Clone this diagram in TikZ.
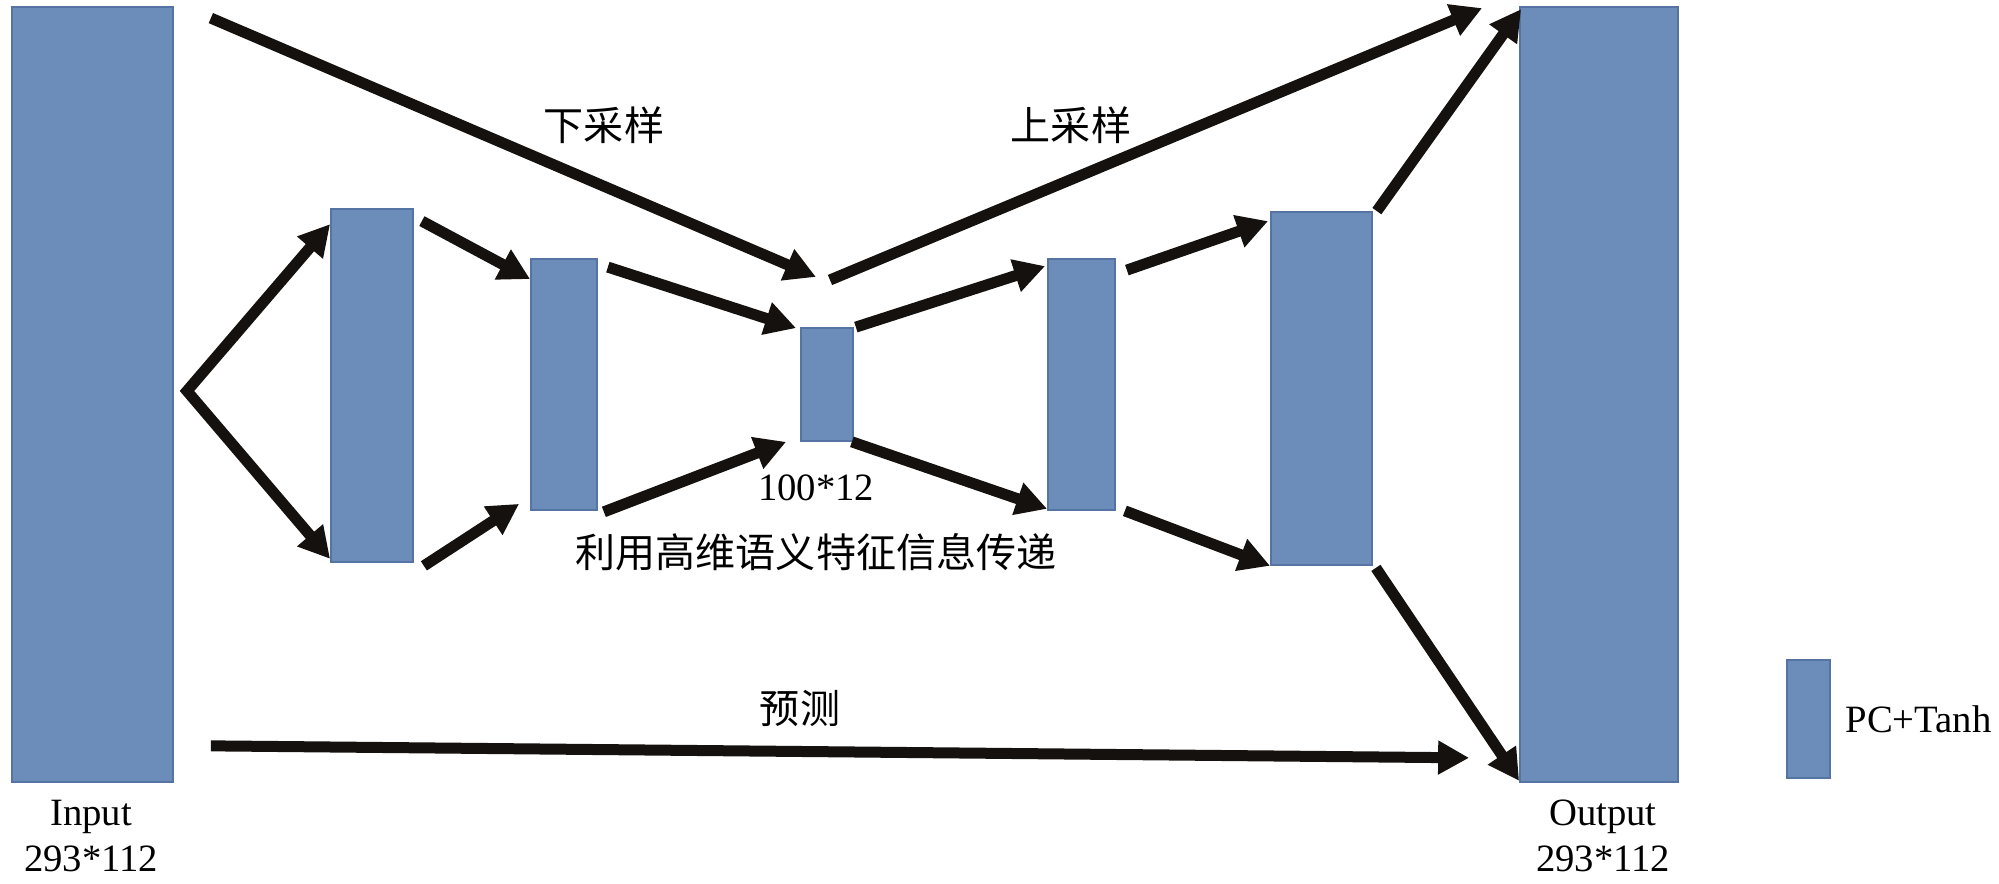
\documentclass[tikz,border=0pt]{standalone}
\usepackage{fontspec}
\setmainfont{Liberation Serif}
\newfontfamily\cjk{Noto Sans CJK SC}
\usepackage{xcolor}
\usepackage{tikz}
\usetikzlibrary{arrows.meta,positioning}

\definecolor{boxblue}{HTML}{6C8CBA}
\definecolor{boxedge}{HTML}{5573A3}
\definecolor{arrowink}{HTML}{15110E}

\tikzset{
    layer/.style={draw=boxedge, fill=boxblue, line width=0.5pt, inner sep=0pt},
    fat/.style={draw=arrowink, line width=0.11cm, >={Triangle[length=0.31cm,width=0.32cm]}},
    zh/.style={font=\cjk\fontsize{11.4}{13}\selectfont, inner sep=0pt},
    en/.style={font=\fontsize{11}{13}\selectfont, inner sep=0pt, align=center}
}

\begin{document}
\begin{tikzpicture}
    \useasboundingbox (0,0) rectangle (19.99,8.84);

    % feature maps: name / centre x / centre y / width / height
    \foreach \nm/\x/\y/\w/\h in {in/0.925/4.895/1.61/7.75, a/3.72/4.985/0.82/3.53,
        b/5.64/4.995/0.66/2.51, c/8.27/4.995/0.52/1.13, d/10.815/4.995/0.67/2.51,
        e/13.215/4.955/1.01/3.53, out/15.99/4.895/1.58/7.75, key/18.085/1.65/0.43/1.18} {
        \node[layer, minimum width=\w cm, minimum height=\h cm] (\nm) at (\x,\y) {};
    }

    % input splits into two branches
    \coordinate (fork) at (1.87,4.93);
    \draw[fat,<->,miter limit=10] ([yshift=-0.16cm]a.north west) -- (fork) -- ([yshift=0.04cm]a.south west);

    % encoder
    \draw[fat,->] ([xshift=0.08cm,yshift=-0.13cm]a.north east) -- ([yshift=-0.21cm]b.north west);
    \draw[fat,->] ([xshift=0.1cm,yshift=-0.03cm]a.south east) -- ([xshift=-0.11cm,yshift=0.07cm]b.south west);
    \draw[fat,->] ([xshift=0.1cm,yshift=-0.09cm]b.north east) -- ([xshift=-0.04cm,yshift=-0.01cm]c.north west);
    \draw[fat,->] ([xshift=0.06cm,yshift=-0.01cm]b.south east) -- ([xshift=-0.14cm]c.south west);

    % decoder
    \draw[fat,->] ([xshift=0.02cm]c.north east) -- ([xshift=-0.02cm,yshift=-0.08cm]d.north west);
    \draw[fat,->] ([xshift=-0.02cm]c.south east) -- ([yshift=0.02cm]d.south west);
    \draw[fat,->] ([xshift=0.11cm,yshift=-0.12cm]d.north east) -- ([xshift=-0.02cm,yshift=-0.1cm]e.north west);
    \draw[fat,->] ([xshift=0.09cm]d.south east) -- (e.south west);
    \draw[fat,->] ([xshift=0.04cm]e.north east) -- ([xshift=0.02cm,yshift=-0.03cm]out.north west);
    \draw[fat,->] ([xshift=0.03cm,yshift=-0.02cm]e.south east) -- ([yshift=0.02cm]out.south west);

    % long arrows
    \coordinate (dsend) at (8.16,6.07);
    \coordinate (usstart) at (8.30,6.04);
    \draw[fat,->] ([xshift=0.37cm,yshift=-0.12cm]in.north east) -- (dsend);
    \draw[fat,->] (usstart) -- ([xshift=-0.37cm,yshift=-0.02cm]out.north west);
    \draw[fat,->] ([xshift=0.37cm,yshift=0.37cm]in.south east) -- ([xshift=-0.5cm,yshift=0.25cm]out.south west);

    % labels
    \node[zh] (down) at (6.04,7.59) {下采样};
    \node[zh] (up) at (10.71,7.59) {上采样};
    \node[en] (size) at (8.16,3.96) {100*12};
    \node[zh] (skip) at (8.16,3.32) {利用高维语义特征信息传递};
    \node[zh] (pred) at (8.00,1.76) {预测};
    \node[en] (inlabel) at (0.91,0.48) {Input\\293*112};
    \node[en] (outlabel) at (16.03,0.48) {Output\\293*112};
    \node[en, right=0.14cm of key] (keylabel) {PC+Tanh};
\end{tikzpicture}
\end{document}
